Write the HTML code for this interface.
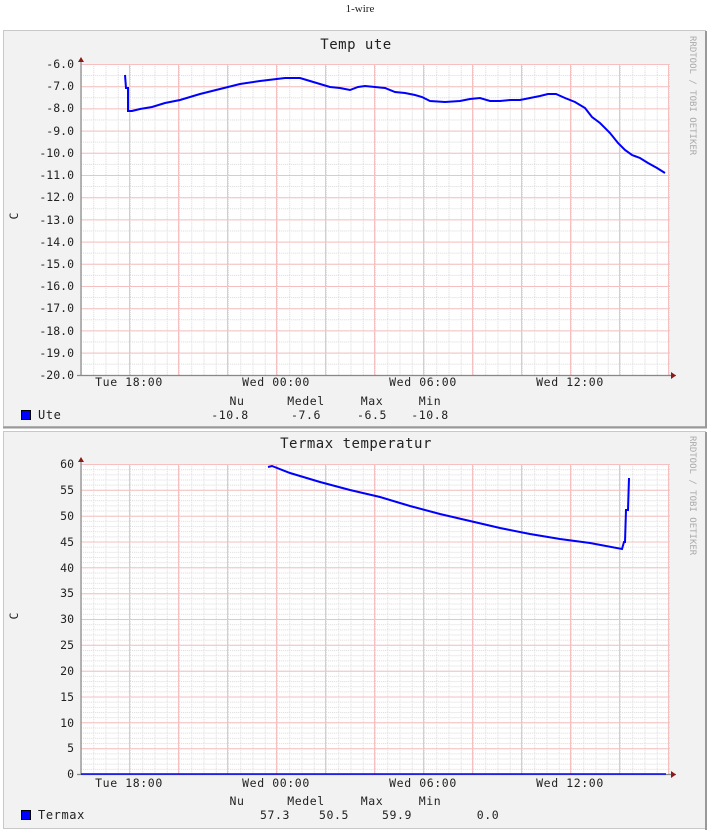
<!DOCTYPE html>
<html><head><meta charset="utf-8"><style>
body{margin:0;background:#fff;width:717px;height:833px;overflow:hidden}
svg{display:block}
text{font-family:"DejaVu Sans Mono","Liberation Mono",monospace;font-size:11.5px;fill:#222}
.l{font-size:12px;letter-spacing:0.6px}
.t{font-family:"DejaVu Sans Mono",monospace;font-size:14px;letter-spacing:0.5px}
.w{font-family:"DejaVu Sans Mono",monospace;font-size:9px;fill:#aaa}
</style></head><body>
<svg width="717" height="833" xmlns="http://www.w3.org/2000/svg">
<text x="360" y="12" text-anchor="middle" style="font-family:'Liberation Serif',serif;font-size:11px">1-wire</text>
<defs>
<pattern id="g1" x="81" y="64" width="12.25" height="11.1" patternUnits="userSpaceOnUse">
<path d="M0.5 0V11.1M0 0.5H12.25" stroke="#d8d8d8" stroke-width="1" stroke-dasharray="1,1" fill="none"/>
</pattern>
<pattern id="g2" x="81" y="464" width="12.25" height="5.167" patternUnits="userSpaceOnUse">
<path d="M0.5 0V5.167M0 0.5H12.25" stroke="#dcdcdc" stroke-width="1" stroke-dasharray="1,1" fill="none"/>
</pattern>
</defs>
<!-- Graph 1 -->
<rect x="3.5" y="30.5" width="702" height="396" fill="#f2f2f2" stroke="#c8c8c8"/>
<line x1="706" y1="31" x2="706" y2="428" stroke="#999" stroke-width="2"/>
<line x1="3" y1="427.5" x2="707" y2="427.5" stroke="#999" stroke-width="2"/>
<text class="t" x="356" y="49" text-anchor="middle">Temp ute</text>
<text class="w" transform="translate(690,36) rotate(90)">RRDTOOL / TOBI OETIKER</text>
<text transform="translate(18,216) rotate(-90)" text-anchor="middle">C</text>
<rect x="81" y="64" width="589" height="311" fill="#fff"/>
<rect x="81" y="64" width="589" height="311" fill="url(#g1)"/>
<g stroke="#f6c0c0" stroke-width="1">
<path d="M81 64.5H670M81 86.7H670M81 108.9H670M81 131.1H670M81 153.3H670M81 175.5H670M81 197.7H670M81 219.9H670M81 242.1H670M81 264.3H670M81 286.5H670M81 308.7H670M81 330.9H670M81 353.1H670"/>
<path d="M129.5 64V375M178.5 64V375M227.5 64V375M276.5 64V375M325.5 64V375M374.5 64V375M423.5 64V375M472.5 64V375M521.5 64V375M570.5 64V375M619.5 64V375M668.5 64V375"/>
</g>
<g text-anchor="end">
<text x="74" y="68">-6.0</text><text x="74" y="90">-7.0</text><text x="74" y="112">-8.0</text><text x="74" y="135">-9.0</text><text x="74" y="157">-10.0</text><text x="74" y="179">-11.0</text><text x="74" y="201">-12.0</text><text x="74" y="224">-13.0</text><text x="74" y="246">-14.0</text><text x="74" y="268">-15.0</text><text x="74" y="290">-16.0</text><text x="74" y="312">-17.0</text><text x="74" y="335">-18.0</text><text x="74" y="357">-19.0</text><text x="74" y="379">-20.0</text>
</g>
<path d="M81 59V376M77 375.5H676" stroke="#888" stroke-width="1.2" fill="none"/>
<path d="M78 62L81 57L84 62Z M671 372L676 375.5L671 379Z" fill="#8b1a1a"/>
<polyline fill="none" stroke="#0000ff" stroke-width="2" points="125,75 126,88 128,88 128,111 132,111 140,109 152,107 165,103 180,100 200,94 220,89 240,84 260,81 285,78 300,78 310,81 320,84 330,87 340,88 350,90 358,87 365,86 375,87 385,88 395,92 405,93 415,95 422,97 430,101 445,102 460,101 470,99 480,98 490,101 500,101 510,100 520,100 530,98 540,96 548,94 556,94 565,98 575,102 585,108 592,117 600,123 610,133 618,143 625,150 632,155 640,158 648,163 657,168 665,173"/>
<g class="l" text-anchor="middle">
<text x="237" y="405">Nu</text><text x="306" y="405">Medel</text><text x="372" y="405">Max</text><text x="430" y="405">Min</text>
<text x="230" y="419">-10.8</text><text x="306" y="419">-7.6</text><text x="372" y="419">-6.5</text><text x="430" y="419">-10.8</text>
</g>
<rect x="21.5" y="410.5" width="9" height="9" fill="#0000ff" stroke="#000"/>
<text class="l" x="38" y="419">Ute</text>
<g class="l" text-anchor="middle"><text x="129" y="386">Tue 18:00</text><text x="276" y="386">Wed 00:00</text><text x="423" y="386">Wed 06:00</text><text x="570" y="386">Wed 12:00</text></g>

<!-- Graph 2 -->
<rect x="3.5" y="431.5" width="702" height="397" fill="#f2f2f2" stroke="#c8c8c8"/>
<line x1="706" y1="432" x2="706" y2="830" stroke="#999" stroke-width="2"/>
<text class="t" x="356" y="448" text-anchor="middle">Termax temperatur</text>
<text class="w" transform="translate(690,436) rotate(90)">RRDTOOL / TOBI OETIKER</text>
<text transform="translate(18,616) rotate(-90)" text-anchor="middle">C</text>
<rect x="81" y="464" width="589" height="310" fill="#fff"/>
<rect x="81" y="464" width="589" height="310" fill="url(#g2)"/>
<g stroke="#f6c0c0" stroke-width="1">
<path d="M81 464.5H670M81 490.3H670M81 516.2H670M81 542H670M81 567.8H670M81 593.7H670M81 619.5H670M81 645.3H670M81 671.2H670M81 697H670M81 722.8H670M81 748.7H670"/>
<path d="M129.5 464V774M178.5 464V774M227.5 464V774M276.5 464V774M325.5 464V774M374.5 464V774M423.5 464V774M472.5 464V774M521.5 464V774M570.5 464V774M619.5 464V774M668.5 464V774"/>
</g>
<g text-anchor="end">
<text x="74" y="468">60</text><text x="74" y="494">55</text><text x="74" y="520">50</text><text x="74" y="546">45</text><text x="74" y="572">40</text><text x="74" y="597">35</text><text x="74" y="623">30</text><text x="74" y="649">25</text><text x="74" y="675">20</text><text x="74" y="701">15</text><text x="74" y="727">10</text><text x="74" y="752">5</text><text x="74" y="778">0</text>
</g>
<path d="M81 459V775M77 774.5H676" stroke="#888" stroke-width="1.2" fill="none"/>
<line x1="81" y1="774" x2="666" y2="774" stroke="#0000ff" stroke-width="1.5"/>
<path d="M78 462L81 457L84 462Z M671 771L676 774.5L671 778Z" fill="#8b1a1a"/>
<polyline fill="none" stroke="#0000ff" stroke-width="2" points="268,467 272,466 290,473 320,482 350,490 380,497 410,506 440,514 470,521 500,528 530,534 560,539 590,543 622,549 624,542 625,542 626,510 628,510 629,478"/>
<g class="l" text-anchor="middle">
<text x="237" y="805">Nu</text><text x="306" y="805">Medel</text><text x="372" y="805">Max</text><text x="430" y="805">Min</text>
<text x="275" y="819">57.3</text><text x="334" y="819">50.5</text><text x="397" y="819">59.9</text><text x="488" y="819">0.0</text>
</g>
<rect x="21.5" y="810.5" width="9" height="9" fill="#0000ff" stroke="#000"/>
<text class="l" x="38" y="819">Termax</text>
<g class="l" text-anchor="middle"><text x="129" y="787">Tue 18:00</text><text x="276" y="787">Wed 00:00</text><text x="423" y="787">Wed 06:00</text><text x="570" y="787">Wed 12:00</text></g>
</svg>
</body></html>
